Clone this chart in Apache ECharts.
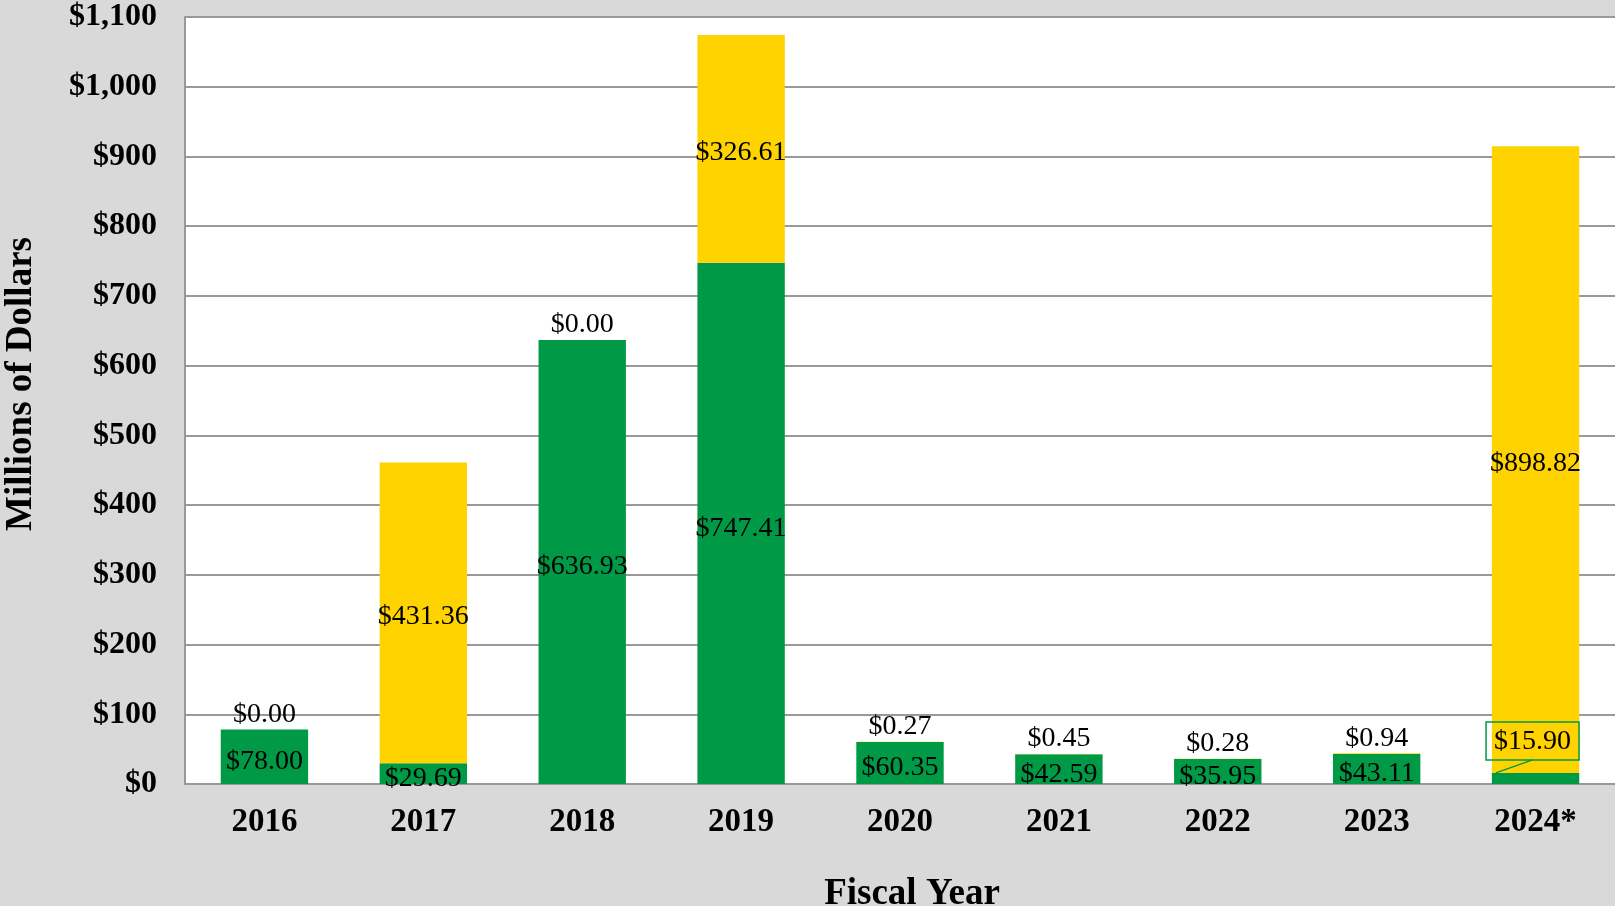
<!DOCTYPE html>
<html><head><meta charset="utf-8">
<script src="https://cdn.jsdelivr.net/npm/echarts@6/dist/echarts.min.js"></script>
<style>html,body{margin:0;padding:0;background:#d9d9d9}#c{width:1615px;height:906px}</style>
</head><body><div id="c"></div>
<script>
const categories = ['2016','2017','2018','2019','2020','2021','2022','2023','2024*'];
const greenValues = [78.00, 29.69, 636.93, 747.41, 60.35, 42.59, 35.95, 43.11, 15.90];
const yellowValues = [0.00, 431.36, 0.00, 326.61, 0.27, 0.45, 0.28, 0.94, 898.82];
const yTicks = [0,100,200,300,400,500,600,700,800,900,1000,1100];
const calloutIndex = 8;

const GREEN = '#009946', YELLOW = '#FFD300';
const FONT = '"Liberation Serif","Times New Roman",serif';
const fmt = v => '$' + v.toFixed(2);
const BAR_W = 0.55;

const greenData = greenValues.map((v,i) => {
  const d = {value: v};
  if (i === calloutIndex) {
    d.label = {borderColor: GREEN, borderWidth: 1.5, padding: [6,8,4,8], position: 'top'};
  }
  return d;
});
const yellowData = yellowValues.map((v,i) => {
  const big = v > 100;
  return {value: v, label: {position: big ? 'inside' : 'top', distance: 3, offset: big ? [0, 4] : [0, 2]}};
});

const chart = echarts.init(document.getElementById('c'));
chart.setOption({
  backgroundColor: '#d9d9d9',
  animation: false,
  grid: {left: 185, right: 0, top: 17, bottom: 122, show: true, backgroundColor: '#ffffff', borderWidth: 0},
  xAxis: {
    type: 'category', data: categories,
    axisLine: {lineStyle: {color: '#999999', width: 2}},
    axisTick: {show: false},
    axisLabel: {color: '#000', fontFamily: FONT, fontWeight: 'bold', fontSize: 33, margin: 22}
  },
  yAxis: {
    type: 'value', min: yTicks[0], max: yTicks[yTicks.length-1], interval: 100,
    axisLine: {show: true, lineStyle: {color: '#999999', width: 2}},
    axisTick: {show: false},
    splitLine: {lineStyle: {color: '#999999', width: 2}},
    axisLabel: {color: '#000', fontFamily: FONT, fontWeight: 'bold', fontSize: 32, margin: 28,
      formatter: v => '$' + v.toLocaleString('en-US')}
  },
  graphic: [
    {type: 'text', x: 912, y: 894, style: {text: 'Fiscal Year', font: 'bold 37px ' + FONT, fill: '#000', align: 'center', verticalAlign: 'middle'}},
    {type: 'text', rotation: Math.PI/2, x: 21, y: 384, style: {text: 'Millions of Dollars', font: 'bold 37px ' + FONT, fill: '#000', align: 'center', verticalAlign: 'middle'}}
  ],
  series: [
    {
      type: 'bar', stack: 's', data: greenData, barWidth: (BAR_W*100) + '%',
      itemStyle: {color: GREEN},
      label: {show: true, position: 'inside', color: '#000', fontFamily: FONT, fontSize: 28, formatter: p => fmt(p.value)},
      labelLayout: p => p.dataIndex === calloutIndex ? {dy: -8, dx: -3} : {dy: 5}
    },
    {
      type: 'bar', stack: 's', data: yellowData, barWidth: (BAR_W*100) + '%',
      itemStyle: {color: YELLOW},
      label: {show: true, color: '#000', fontFamily: FONT, fontSize: 28, formatter: p => fmt(p.value)}
    },
    {
      type: 'custom', silent: true, z: 5,
      data: [[calloutIndex, greenValues[calloutIndex]]],
      renderItem: (params, api) => {
        const p = api.coord([api.value(0), api.value(1)]);
        const w = api.size([1, 0])[0] * BAR_W;
        return {type: 'line', shape: {x1: p[0] - w/2 + 4, y1: p[1], x2: p[0] - 3, y2: p[1] - 13},
          style: {stroke: GREEN, lineWidth: 1.5}};
      }
    }
  ]
});
</script></body></html>
